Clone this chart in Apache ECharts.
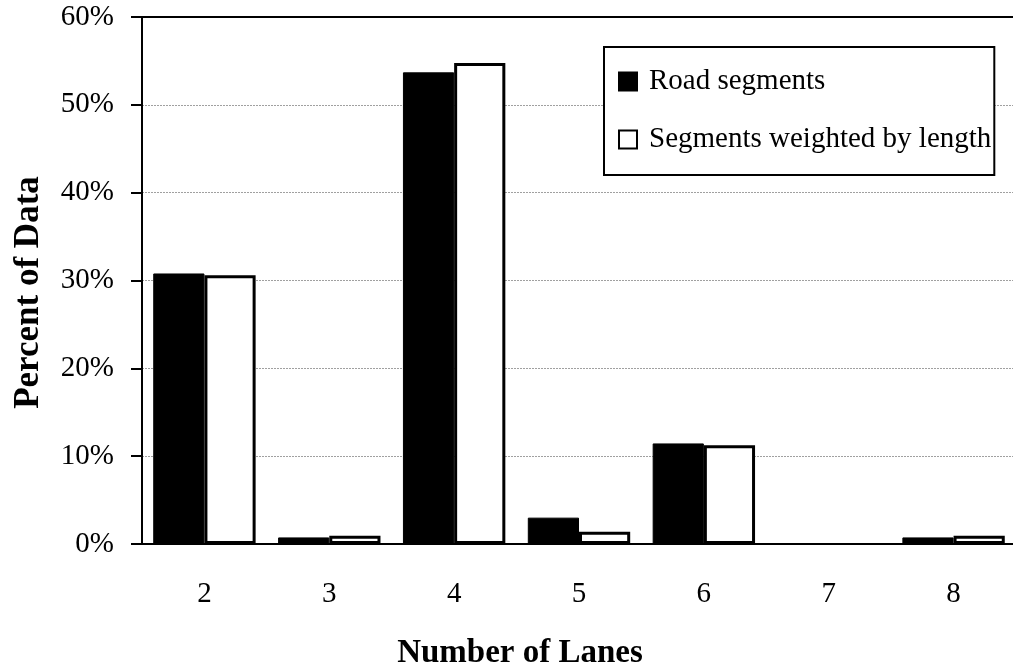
<!DOCTYPE html>
<html>
<head>
<meta charset="utf-8">
<script src="https://cdn.jsdelivr.net/npm/echarts@6/dist/echarts.min.js"></script>
<style>html,body{margin:0;padding:0;background:#fff;}#c{width:1013px;height:666px;}</style>
</head>
<body>
<div id="c"></div>
<script>
var categories = ['2', '3', '4', '5', '6', '7', '8'];
var roadSegments = [30.8, 0.75, 53.7, 3.0, 11.45, 0, 0.75];
var weightedByLength = [30.6, 0.95, 54.75, 1.4, 11.25, 0, 0.95];
var yTicks = [0, 10, 20, 30, 40, 50, 60];

var FONT = "'Liberation Serif', 'Times New Roman', serif";

function barData(values) {
  return values.map(function (v) {
    return v === 0 ? {value: v, itemStyle: {borderWidth: 0}} : v;
  });
}

var chart = echarts.init(document.getElementById('c'), null, {renderer: 'canvas'});
chart.setOption({
  animation: false,
  backgroundColor: '#fff',
  textStyle: {fontFamily: FONT, color: '#000'},
  grid: {left: 142, top: 17, bottom: 122, right: -3, outerBoundsMode: 'none', containLabel: false},
  legend: {
    orient: 'vertical',
    left: 604, top: 47,
    padding: [20, 3, 21, 14],
    itemGap: 29,
    itemWidth: 18, itemHeight: 18,
    borderColor: '#000', borderWidth: 2,
    backgroundColor: '#fff',
    textStyle: {fontFamily: FONT, fontSize: 29, color: '#000', padding: [0, 0, 0, 7]},
    data: [
      {name: 'Road segments', icon: 'rect'},
      {name: 'Segments weighted by length', icon: 'rect'}
    ]
  },
  xAxis: [{
    type: 'category',
    data: categories,
    name: 'Number of Lanes',
    nameLocation: 'middle',
    nameGap: 93,
    nameTextStyle: {fontFamily: FONT, fontSize: 33, fontWeight: 'bold', color: '#000', padding: [0, 118, 0, 0]},
    axisLine: {lineStyle: {color: '#000', width: 2}},
    axisTick: {length: 11, lineStyle: {color: '#000', width: 2}},
    axisLabel: {fontFamily: FONT, fontSize: 29, color: '#000', margin: 36},
    z: 5
  }, {
    type: 'category',
    data: categories,
    position: 'top',
    axisLine: {show: true, lineStyle: {color: '#000', width: 2}},
    axisTick: {show: false},
    axisLabel: {show: false},
    z: 5
  }],
  yAxis: {
    type: 'value',
    min: 0, max: 60, interval: 10,
    name: 'Percent of Data',
    nameLocation: 'middle',
    nameGap: 96,
    nameTextStyle: {fontFamily: FONT, fontSize: 35, fontWeight: 'bold', color: '#000', padding: [0, 24, 0, 0]},
    axisLine: {show: true, lineStyle: {color: '#000', width: 2}},
    axisTick: {show: true, length: 11, lineStyle: {color: '#000', width: 2}},
    axisLabel: {
      fontFamily: FONT, fontSize: 29, color: '#000', margin: 28,
      customValues: yTicks,
      formatter: function (v) { return v + '%'; }
    },
    splitLine: {show: true, lineStyle: {color: '#a0a0a0', type: [2, 1], width: 1}}
  },
  series: [{
    name: 'Road segments',
    type: 'bar',
    data: barData(roadSegments),
    barGap: '0%',
    barCategoryGap: '18%',
    itemStyle: {color: '#000', borderColor: '#000', borderWidth: 1}
  }, {
    name: 'Segments weighted by length',
    type: 'bar',
    data: barData(weightedByLength),
    itemStyle: {color: '#fff', borderColor: '#000', borderWidth: 3}
  }]
});
</script>
</body>
</html>
